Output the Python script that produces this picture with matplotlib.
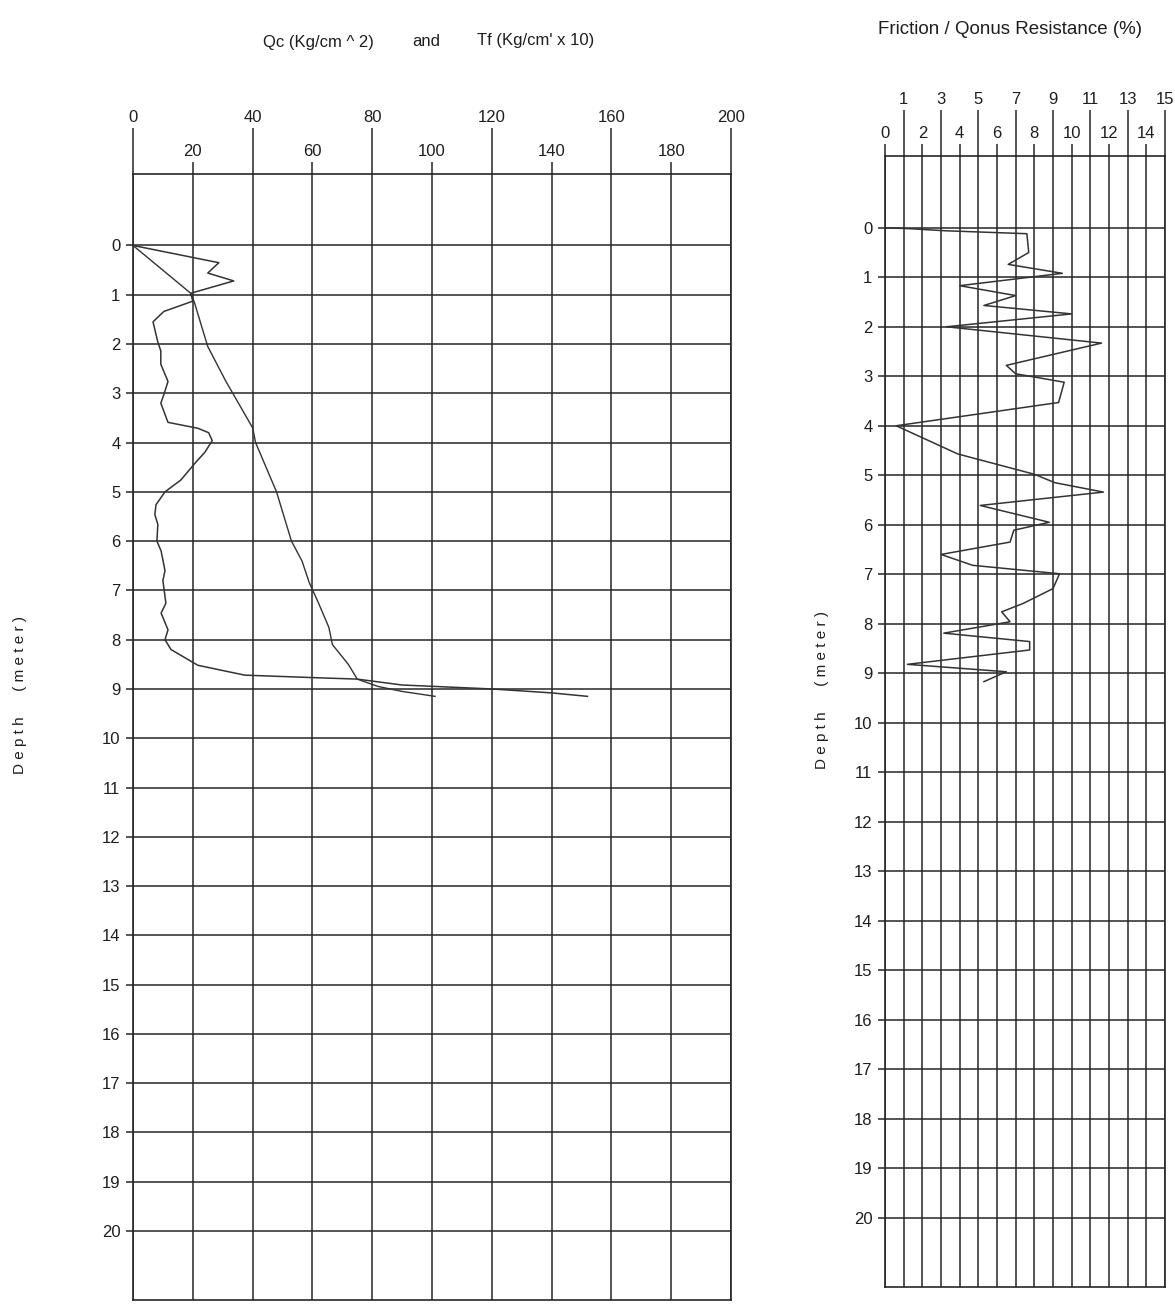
import matplotlib.pyplot as plt

plt.rcParams['font.family'] = ['Liberation Sans', 'DejaVu Sans']

# --- cone resistance Qc (kg/cm^2) vs depth (m)
qc_depth = [0, 0.35, 0.56, 0.72, 0.97, 1.13, 1.34, 1.55, 1.96, 2.14, 2.41, 2.76, 3.03, 3.2,
            3.59, 3.71, 3.8, 3.96, 4.2, 4.4, 4.76, 5.0, 5.26, 5.46, 5.66, 6.0, 6.2, 6.6, 6.8,
            7.26, 7.46, 7.8, 8.0, 8.2, 8.52, 8.72, 8.78, 8.8, 8.92, 9.0, 9.08, 9.15]
qc_value = [0, 28.7, 25, 33.7, 19.3, 20, 10.3, 6.7, 8.3, 9.3, 9.3, 11.7, 10.3, 9.3,
            11.7, 21.7, 25.3, 26.5, 24, 21, 16, 10.7, 7.7, 7.3, 8.3, 8, 9.4, 10.7, 10,
            11, 9.4, 11.7, 10.7, 12.7, 21.7, 37.4, 65, 75, 90, 120, 140, 152]

# --- total friction Tf (kg/cm' x 10) vs depth
tf_depth = [0, 0.97, 1.15, 2.05, 2.75, 3.7, 4.0, 5.0, 6.0, 6.4, 6.85, 7.25, 7.75, 8.1,
            8.5, 8.8, 8.95, 9.05, 9.15]
tf_value = [0, 19.3, 20.5, 25, 31, 40, 41, 48, 53, 56.5, 59, 62, 65.5, 66.7,
            72, 75, 82, 90, 101]

# --- friction ratio (%) vs depth
fr_depth = [0, 0.02, 0.06, 0.12, 0.5, 0.74, 0.92, 1.17, 1.37, 1.57, 1.74, 2.0, 2.33, 2.78,
            2.95, 3.12, 3.53, 4.0, 4.57, 4.98, 5.15, 5.34, 5.61, 5.95, 6.11, 6.35, 6.6, 6.82,
            6.99, 7.29, 7.59, 7.76, 7.96, 8.19, 8.36, 8.53, 8.82, 8.97, 9.17]
fr_value = [0, 1.4, 3.2, 7.6, 7.7, 6.6, 9.5, 4.0, 7.0, 5.3, 10.0, 3.3, 11.6, 6.5,
            7.0, 9.6, 9.3, 0.6, 3.9, 8.0, 9.1, 11.7, 5.1, 8.8, 6.9, 6.7, 3.0, 4.7,
            9.35, 9.0, 7.4, 6.25, 6.7, 3.15, 7.75, 7.75, 1.2, 6.5, 5.3]

left_major = [0, 40, 80, 120, 160, 200]
left_minor = [20, 60, 100, 140, 180]
right_major = [1, 3, 5, 7, 9, 11, 13, 15]
right_minor = [0, 2, 4, 6, 8, 10, 12, 14]
depths = list(range(0, 21))

W, H = 1175, 1311
ink = '#262626'
txt = '#1e1e1e'
fig = plt.figure(figsize=(W / 100, H / 100), dpi=100)


def px_axes(x0, y0, x1, y1):
    return fig.add_axes([x0 / W, 1 - y1 / H, (x1 - x0) / W, (y1 - y0) / H])


def style(ax, xmax, major, minor):
    ax.set_xlim(0, xmax)
    ax.set_ylim(21.4, -1.45)
    ax.xaxis.tick_top()
    ax.set_xticks(major, [str(v) for v in major])
    ax.set_xticks(minor, [str(v) for v in minor], minor=True)
    ax.tick_params(axis='x', which='major', length=33, width=1.1, color=ink,
                   labelsize=12, labelcolor=txt, pad=2)
    ax.tick_params(axis='x', which='minor', length=9, width=1.1, color=ink,
                   labelsize=12, labelcolor=txt, pad=2)
    ax.set_yticks(depths, [str(d) for d in depths])
    ax.tick_params(axis='y', length=5, width=1.1, color=ink, labelsize=12,
                   labelcolor=txt, pad=4)
    ax.grid(True, which='both', color=ink, linewidth=1.1)
    for s in ax.spines.values():
        s.set_color(ink)
        s.set_linewidth(1.2)


# left chart
ax1 = px_axes(133, 174, 731, 1300)
style(ax1, 200, left_major, left_minor)
ax1.plot(qc_value, qc_depth, color='#333333', linewidth=1.1, zorder=3)
ax1.plot(tf_value, tf_depth, color='#333333', linewidth=1.0, zorder=3)

# right chart
ax2 = px_axes(885, 156, 1165, 1287)
style(ax2, 15, right_major, right_minor)
ax2.plot(fr_value, fr_depth, color='#333333', linewidth=1.1, zorder=3)

# titles
fig.text(318 / W, 1 - 42 / H, "Qc (Kg/cm ^ 2)", ha='center', va='center',
         fontsize=12, color=txt)
fig.text(426 / W, 1 - 41 / H, "and", ha='center', va='center', fontsize=12, color=txt)
fig.text(536 / W, 1 - 40 / H, "Tf (Kg/cm' x 10)", ha='center', va='center',
         fontsize=12, color=txt)
fig.text(1010 / W, 1 - 30 / H, "Friction / Qonus Resistance (%)",
         ha='center', va='center', fontsize=13.5, color=txt)

depth_label = "D e p t h      ( m e t e r )"
fig.text(20 / W, 1 - 695 / H, depth_label, rotation=90,
         ha='center', va='center', fontsize=11, color=txt)
fig.text(822 / W, 1 - 690 / H, depth_label, rotation=90,
         ha='center', va='center', fontsize=11, color=txt)

fig.savefig('out.png', dpi=100, facecolor='white')
